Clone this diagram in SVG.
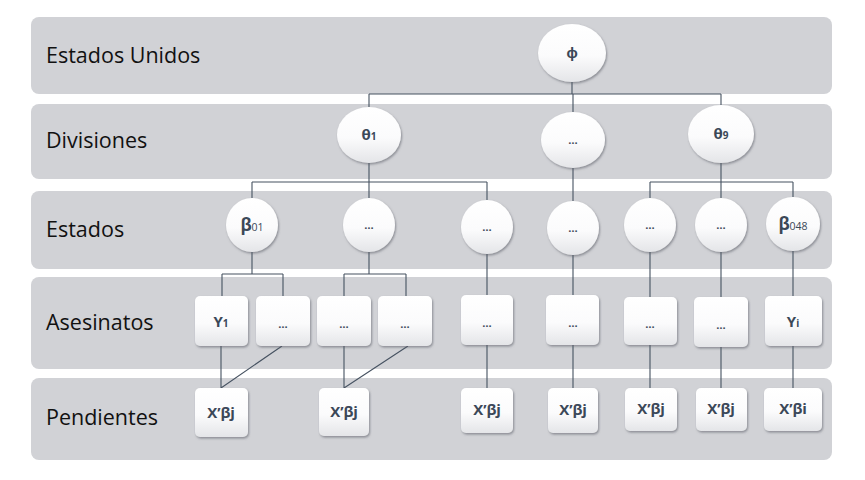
<svg xmlns="http://www.w3.org/2000/svg" width="865" height="480" viewBox="0 0 865 480">
<defs>
<linearGradient id="ng" x1="0" y1="0" x2="0" y2="1">
<stop offset="0" stop-color="#ffffff"/>
<stop offset="0.55" stop-color="#fbfbfc"/>
<stop offset="1" stop-color="#e4e5e8"/>
</linearGradient>
<filter id="sh" x="-20%" y="-20%" width="150%" height="150%">
<feDropShadow dx="1" dy="1.5" stdDeviation="1.2" flood-color="#5a5f68" flood-opacity="0.6"/>
</filter>
</defs>
<style>
.band{fill:#d1d2d6}
.lbl{font-family:"Open Sans","Liberation Sans",sans-serif;font-size:21.5px;fill:#111111}
.node{fill:url(#ng);filter:url(#sh)}
.nt{font-family:"Open Sans","Liberation Sans",sans-serif;font-weight:bold;font-size:15px;fill:#3b4858;text-anchor:middle}
.dots{font-family:"Open Sans","Liberation Sans",sans-serif;font-weight:bold;font-size:11px;fill:#3b4858;text-anchor:middle}
.sub{font-size:10px;font-weight:normal}
.subb{font-size:10px}
.conn{fill:none;stroke:#465261;stroke-width:1.1}
</style>
<g id="bands">
<rect class="band" x="31" y="17" width="801" height="77" rx="8"/>
<rect class="band" x="31" y="104" width="801" height="75" rx="8"/>
<rect class="band" x="31" y="191" width="801" height="78" rx="8"/>
<rect class="band" x="31" y="277" width="801" height="92" rx="8"/>
<rect class="band" x="31" y="378" width="801" height="82" rx="8"/>
<text class="lbl" x="46" y="63">Estados Unidos</text>
<text class="lbl" x="46" y="148">Divisiones</text>
<text class="lbl" x="46" y="237">Estados</text>
<text class="lbl" x="46" y="330">Asesinatos</text>
<text class="lbl" x="46" y="425">Pendientes</text>
</g>
<g id="connectors">
<path class="conn" d="M572,82V94M369,94H721M369,94V107M573,94V112M721,94V105"/>
<path class="conn" d="M369,163V182M252,182H487M252,182V198M369,182V198M487,182V200"/>
<path class="conn" d="M573,168V201"/>
<path class="conn" d="M721,163V182M650,182H793M650,182V198M721,182V198M793,182V197"/>
<path class="conn" d="M252,252V274M222,274H283M222,274V296M283,274V296"/>
<path class="conn" d="M369,252V274M344,274H406M344,274V296M406,274V296"/>
<path class="conn" d="M487,254V295M573,255V295M650,252V297M721,252V297M793,251V296"/>
<path class="conn" d="M221,346V388M282,346L221,388M344,346V388M408,346L344,388"/>
<path class="conn" d="M487,345V388M573,345V388M650,345V388M721,347V388M793,346V388"/>
</g>
<g id="n-phi"><ellipse class="node" cx="572" cy="53" rx="34" ry="29"/><text class="nt" x="572" y="58">ϕ</text></g>
<g id="n-theta1"><ellipse class="node" cx="369" cy="135" rx="32" ry="28"/><text class="nt" x="369" y="140">θ<tspan class="subb">1</tspan></text></g>
<g id="n-div-dots"><ellipse class="node" cx="573" cy="140" rx="32" ry="28"/><text class="dots" x="573" y="144">…</text></g>
<g id="n-theta9"><ellipse class="node" cx="721" cy="134" rx="33" ry="29"/><text class="nt" x="721" y="139">θ<tspan class="subb">9</tspan></text></g>
<g id="n-beta01"><ellipse class="node" cx="252" cy="225" rx="26" ry="27"/><text class="nt" x="252" y="231" style="font-size:17px">β<tspan class="sub" style="font-size:10.5px">01</tspan></text></g>
<g id="n-est2"><ellipse class="node" cx="369" cy="225" rx="26" ry="27"/><text class="dots" x="369" y="229">…</text></g>
<g id="n-est3"><ellipse class="node" cx="487" cy="227" rx="26" ry="27"/><text class="dots" x="487" y="231">…</text></g>
<g id="n-est4"><ellipse class="node" cx="573" cy="228" rx="26" ry="27"/><text class="dots" x="573" y="232">…</text></g>
<g id="n-est5"><ellipse class="node" cx="650" cy="225" rx="26" ry="27"/><text class="dots" x="650" y="229">…</text></g>
<g id="n-est6"><ellipse class="node" cx="721" cy="225" rx="26" ry="27"/><text class="dots" x="721" y="229">…</text></g>
<g id="n-beta048"><ellipse class="node" cx="793" cy="224" rx="27" ry="27"/><text class="nt" x="793" y="230" style="font-size:17px">β<tspan class="sub" style="font-size:10.5px">048</tspan></text></g>
<g id="n-y1"><rect class="node" x="195" y="296" width="53" height="50" rx="5"/><text class="nt" x="221" y="327">Y<tspan class="subb">1</tspan></text></g>
<g id="n-as2"><rect class="node" x="256" y="296" width="54" height="50" rx="5"/><text class="dots" x="283" y="328">…</text></g>
<g id="n-as3"><rect class="node" x="317" y="296" width="54" height="50" rx="5"/><text class="dots" x="344" y="328">…</text></g>
<g id="n-as4"><rect class="node" x="378" y="296" width="54" height="50" rx="5"/><text class="dots" x="405" y="328">…</text></g>
<g id="n-as5"><rect class="node" x="461" y="295" width="52" height="50" rx="5"/><text class="dots" x="487" y="327">…</text></g>
<g id="n-as6"><rect class="node" x="546" y="295" width="53" height="50" rx="5"/><text class="dots" x="573" y="327">…</text></g>
<g id="n-as7"><rect class="node" x="624" y="297" width="53" height="48" rx="5"/><text class="dots" x="650" y="328">…</text></g>
<g id="n-as8"><rect class="node" x="694" y="297" width="54" height="50" rx="5"/><text class="dots" x="721" y="329">…</text></g>
<g id="n-yi"><rect class="node" x="765" y="296" width="57" height="50" rx="5"/><text class="nt" x="793" y="327">Y<tspan class="subb">i</tspan></text></g>
<g id="n-p1"><rect class="node" x="195" y="388" width="53" height="49" rx="5"/><text class="nt" x="221" y="418">X’βj</text></g>
<g id="n-p2"><rect class="node" x="319" y="388" width="50" height="48" rx="5"/><text class="nt" x="344" y="417">X’βj</text></g>
<g id="n-p3"><rect class="node" x="461" y="388" width="52" height="45" rx="5"/><text class="nt" x="487" y="415">X’βj</text></g>
<g id="n-p4"><rect class="node" x="548" y="388" width="50" height="45" rx="5"/><text class="nt" x="573" y="415">X’βj</text></g>
<g id="n-p5"><rect class="node" x="625" y="388" width="52" height="43" rx="5"/><text class="nt" x="651" y="414">X’βj</text></g>
<g id="n-p6"><rect class="node" x="696" y="388" width="51" height="43" rx="5"/><text class="nt" x="721" y="414">X’βj</text></g>
<g id="n-p7"><rect class="node" x="764" y="388" width="58" height="43" rx="5"/><text class="nt" x="793" y="414">X’βi</text></g>
</svg>
